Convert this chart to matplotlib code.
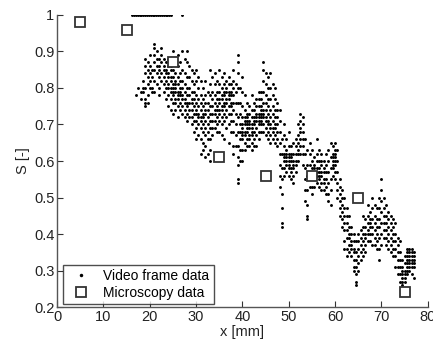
import matplotlib
matplotlib.use("Agg")
import matplotlib.pyplot as plt

plt.rcParams['font.family'] = ['Liberation Sans', 'DejaVu Sans']

# Microscopy data
micro_x = [5, 15, 25, 35, 45, 55, 65, 75]
micro_y = [0.98, 0.96, 0.87, 0.61, 0.56, 0.56, 0.50, 0.24]

# Video frame data: saturated frames (S = 1)
sat_x = [16.2, 16.6, 17.0, 17.4, 17.8, 18.2, 18.6, 19.0, 19.4, 19.8, 20.2, 20.6,
         21.0, 21.4, 21.8, 22.2, 22.6, 23.0, 23.4, 23.8, 24.2, 24.6, 27.0]
sat_y = [1.0] * len(sat_x)

# Video frame data: columns of frames (x position, S values)
col_x = [17.0, 17.5, 18.0, 18.5, 19.0, 19.5, 20.0, 20.5, 21.0, 21.5, 22.0, 22.5,
         23.0, 23.5, 24.0, 24.5, 25.0, 25.5, 26.0, 26.5, 27.0, 27.5, 28.0, 28.5,
         29.0, 29.5, 30.0, 30.5, 31.0, 31.5, 32.0, 32.5, 33.0, 33.5, 34.0, 34.5,
         35.0, 35.5, 36.0, 36.5, 37.0, 37.5, 38.0, 38.5, 39.0, 39.5, 40.0, 40.5,
         41.0, 41.5, 42.0, 42.5, 43.0, 43.5, 44.0, 44.5, 45.0, 45.5, 46.0, 46.5,
         47.0, 47.5, 48.0, 48.5, 49.0, 49.5, 50.0, 50.5, 51.0, 51.5, 52.0, 52.5,
         53.0, 53.5, 54.0, 54.5, 55.0, 55.5, 56.0, 56.5, 57.0, 57.5, 58.0, 58.5,
         59.0, 59.5, 60.0, 60.5, 61.0, 61.5, 62.0, 62.5, 63.0, 63.5, 64.0, 64.5,
         65.0, 65.5, 66.0, 66.5, 67.0, 67.5, 68.0, 68.5, 69.0, 69.5, 70.0, 70.5,
         71.0, 71.5, 72.0, 72.5, 73.0, 73.5, 74.0, 74.5, 75.0, 75.5, 76.0, 76.5,
         77.0]
col_y = [
    [0.78],
    [0.80],
    [0.79, 0.77],
    [0.82, 0.80, 0.79],
    [0.88, 0.86, 0.84, 0.80, 0.77, 0.76, 0.75],
    [0.87, 0.85, 0.83, 0.81, 0.78, 0.76],
    [0.89, 0.86, 0.84, 0.82, 0.80],
    [0.85, 0.83, 0.80, 0.79],
    [0.92, 0.91, 0.89, 0.87, 0.85, 0.82, 0.79],
    [0.90, 0.88, 0.86, 0.84, 0.81],
    [0.88, 0.86, 0.85, 0.83, 0.80, 0.78],
    [0.91, 0.89, 0.87, 0.84, 0.82],
    [0.88, 0.86, 0.85, 0.83, 0.81, 0.79],
    [0.87, 0.85, 0.84, 0.82, 0.80, 0.77],
    [0.88, 0.86, 0.84, 0.83, 0.81, 0.80, 0.78, 0.75],
    [0.86, 0.85, 0.83, 0.82, 0.80, 0.79, 0.77, 0.74],
    [0.90, 0.85, 0.83, 0.81, 0.80, 0.79, 0.78, 0.76, 0.73],
    [0.84, 0.82, 0.81, 0.80, 0.79, 0.77, 0.76, 0.74],
    [0.89, 0.86, 0.83, 0.81, 0.79, 0.78, 0.77, 0.75, 0.72],
    [0.87, 0.84, 0.82, 0.80, 0.79, 0.78, 0.76, 0.74],
    [0.90, 0.85, 0.82, 0.80, 0.78, 0.77, 0.75, 0.73],
    [0.88, 0.84, 0.81, 0.79, 0.77, 0.76, 0.74, 0.72],
    [0.90, 0.87, 0.83, 0.80, 0.78, 0.76, 0.75, 0.73, 0.71],
    [0.86, 0.83, 0.80, 0.78, 0.76, 0.74, 0.72],
    [0.85, 0.82, 0.79, 0.77, 0.76, 0.74, 0.72, 0.70],
    [0.84, 0.81, 0.79, 0.77, 0.75, 0.73, 0.71, 0.68],
    [0.85, 0.82, 0.78, 0.76, 0.74, 0.73, 0.71, 0.69, 0.66],
    [0.83, 0.80, 0.77, 0.75, 0.73, 0.72, 0.70, 0.67],
    [0.82, 0.78, 0.76, 0.74, 0.72, 0.71, 0.69, 0.66, 0.62],
    [0.80, 0.77, 0.75, 0.73, 0.72, 0.70, 0.68, 0.65, 0.63],
    [0.82, 0.78, 0.76, 0.74, 0.73, 0.71, 0.69, 0.67, 0.64, 0.61],
    [0.79, 0.76, 0.74, 0.72, 0.70, 0.68, 0.66, 0.62],
    [0.85, 0.81, 0.78, 0.75, 0.73, 0.71, 0.69, 0.66, 0.63, 0.60],
    [0.83, 0.79, 0.77, 0.75, 0.73, 0.71, 0.69, 0.67],
    [0.84, 0.81, 0.78, 0.76, 0.74, 0.73, 0.71, 0.69],
    [0.82, 0.79, 0.77, 0.75, 0.74, 0.72, 0.70, 0.68],
    [0.85, 0.81, 0.79, 0.77, 0.76, 0.74, 0.73, 0.71, 0.68],
    [0.83, 0.80, 0.78, 0.77, 0.75, 0.74, 0.72, 0.70, 0.67],
    [0.84, 0.81, 0.79, 0.78, 0.76, 0.75, 0.73, 0.71, 0.66],
    [0.82, 0.80, 0.79, 0.77, 0.76, 0.74, 0.72, 0.69],
    [0.83, 0.81, 0.79, 0.78, 0.77, 0.75, 0.73, 0.70, 0.65],
    [0.81, 0.79, 0.78, 0.76, 0.75, 0.73, 0.71, 0.68],
    [0.85, 0.82, 0.80, 0.78, 0.76, 0.74, 0.71, 0.68, 0.64, 0.62],
    [0.81, 0.79, 0.76, 0.73, 0.70, 0.67, 0.64],
    [0.89, 0.87, 0.84, 0.80, 0.76, 0.72, 0.68, 0.64, 0.61, 0.59, 0.55, 0.54],
    [0.80, 0.76, 0.73, 0.70, 0.68, 0.66, 0.63, 0.60],
    [0.83, 0.79, 0.75, 0.72, 0.70, 0.69, 0.68, 0.67, 0.66, 0.63, 0.60],
    [0.78, 0.74, 0.72, 0.71, 0.70, 0.68, 0.67, 0.65, 0.63],
    [0.76, 0.73, 0.72, 0.71, 0.70, 0.69, 0.68, 0.66, 0.64],
    [0.75, 0.73, 0.71, 0.70, 0.69, 0.67, 0.66, 0.64],
    [0.78, 0.74, 0.72, 0.70, 0.69, 0.68, 0.67, 0.65, 0.63],
    [0.76, 0.74, 0.72, 0.71, 0.70, 0.68, 0.66, 0.64],
    [0.77, 0.75, 0.73, 0.72, 0.71, 0.69, 0.67, 0.64],
    [0.79, 0.77, 0.75, 0.73, 0.72, 0.71, 0.70, 0.68, 0.66],
    [0.79, 0.77, 0.75, 0.74, 0.73, 0.72, 0.71, 0.70, 0.68],
    [0.87, 0.85, 0.82, 0.79, 0.76, 0.74, 0.73, 0.72, 0.70, 0.68],
    [0.84, 0.81, 0.78, 0.76, 0.74, 0.72, 0.71, 0.69, 0.67],
    [0.83, 0.80, 0.77, 0.75, 0.73, 0.71, 0.70, 0.68, 0.66],
    [0.84, 0.80, 0.77, 0.74, 0.72, 0.70, 0.69, 0.67, 0.65],
    [0.81, 0.78, 0.75, 0.73, 0.71, 0.69, 0.68, 0.66],
    [0.80, 0.77, 0.74, 0.72, 0.70, 0.69, 0.67, 0.65],
    [0.76, 0.74, 0.72, 0.70, 0.68, 0.66, 0.64],
    [0.74, 0.71, 0.68, 0.65, 0.62, 0.59, 0.56, 0.53],
    [0.66, 0.62, 0.58, 0.55, 0.51, 0.47, 0.43, 0.42],
    [0.70, 0.67, 0.64, 0.62, 0.61, 0.60, 0.58, 0.56],
    [0.66, 0.63, 0.62, 0.61, 0.60, 0.59, 0.57],
    [0.68, 0.64, 0.62, 0.61, 0.60, 0.59, 0.58, 0.56],
    [0.64, 0.62, 0.61, 0.60, 0.58, 0.57, 0.55],
    [0.65, 0.62, 0.60, 0.59, 0.58, 0.56, 0.54],
    [0.66, 0.64, 0.62, 0.60, 0.59, 0.57],
    [0.70, 0.67, 0.65, 0.63, 0.62, 0.60],
    [0.73, 0.71, 0.69, 0.68, 0.66, 0.64, 0.62],
    [0.72, 0.70, 0.68, 0.66, 0.64, 0.62, 0.59],
    [0.66, 0.62, 0.58, 0.55, 0.52, 0.49],
    [0.63, 0.59, 0.56, 0.52, 0.48, 0.45, 0.44],
    [0.65, 0.62, 0.59, 0.57, 0.55, 0.53],
    [0.63, 0.60, 0.58, 0.57, 0.55, 0.53, 0.51],
    [0.61, 0.59, 0.58, 0.56, 0.55, 0.53],
    [0.66, 0.62, 0.60, 0.58, 0.57, 0.56, 0.54],
    [0.63, 0.60, 0.58, 0.57, 0.56, 0.55, 0.53],
    [0.62, 0.60, 0.59, 0.57, 0.56, 0.54, 0.52],
    [0.60, 0.58, 0.57, 0.55, 0.54, 0.52],
    [0.62, 0.59, 0.57, 0.55, 0.53, 0.51],
    [0.63, 0.60, 0.57, 0.54, 0.51, 0.49],
    [0.65, 0.61, 0.58, 0.55, 0.52, 0.48],
    [0.64, 0.62, 0.61, 0.60, 0.59, 0.58, 0.56],
    [0.65, 0.63, 0.62, 0.61, 0.60, 0.59, 0.57, 0.55],
    [0.63, 0.60, 0.57, 0.54, 0.52, 0.50],
    [0.55, 0.53, 0.51, 0.49, 0.47, 0.45],
    [0.52, 0.50, 0.48, 0.46, 0.44, 0.42],
    [0.50, 0.47, 0.45, 0.43, 0.41, 0.38, 0.36],
    [0.47, 0.45, 0.43, 0.41, 0.39, 0.36, 0.34],
    [0.45, 0.42, 0.40, 0.39, 0.37, 0.35],
    [0.42, 0.40, 0.38, 0.37, 0.36, 0.34],
    [0.40, 0.38, 0.36, 0.35, 0.33, 0.31, 0.30],
    [0.38, 0.35, 0.33, 0.31, 0.29, 0.27, 0.26],
    [0.40, 0.38, 0.36, 0.34, 0.32, 0.30],
    [0.41, 0.39, 0.37, 0.35, 0.33],
    [0.45, 0.42, 0.40, 0.38, 0.36, 0.34],
    [0.44, 0.42, 0.40, 0.39, 0.37, 0.35],
    [0.48, 0.45, 0.43, 0.41, 0.40, 0.38],
    [0.46, 0.44, 0.43, 0.42, 0.40, 0.38],
    [0.50, 0.47, 0.44, 0.42, 0.40, 0.37],
    [0.48, 0.45, 0.43, 0.41, 0.39, 0.37],
    [0.47, 0.44, 0.42, 0.40, 0.38, 0.36],
    [0.50, 0.47, 0.44, 0.42, 0.39, 0.36, 0.33],
    [0.55, 0.52, 0.49, 0.46, 0.43, 0.40, 0.37],
    [0.50, 0.47, 0.45, 0.43, 0.41, 0.39],
    [0.48, 0.45, 0.43, 0.41, 0.39, 0.37],
    [0.46, 0.44, 0.42, 0.40, 0.38, 0.36],
    [0.45, 0.43, 0.41, 0.39, 0.37, 0.35],
    [0.44, 0.42, 0.40, 0.38, 0.36, 0.34],
    [0.43, 0.40, 0.38, 0.36, 0.34, 0.31],
    [0.39, 0.37, 0.35, 0.33, 0.31, 0.29],
    [0.38, 0.35, 0.33, 0.31, 0.29, 0.27],
    [0.33, 0.31, 0.30, 0.29, 0.28, 0.27, 0.26],
    [0.34, 0.32, 0.30, 0.29, 0.28, 0.27],
    [0.36, 0.35, 0.34, 0.33, 0.32, 0.31, 0.30, 0.29],
    [0.36, 0.35, 0.34, 0.33, 0.32, 0.31, 0.30],
    [0.36, 0.35, 0.34, 0.33, 0.32, 0.31, 0.29],
    [0.35, 0.34, 0.33, 0.32, 0.31, 0.28],
]

x_ticks = [0, 10, 20, 30, 40, 50, 60, 70, 80]
y_ticks = [0.2, 0.3, 0.4, 0.5, 0.6, 0.7, 0.8, 0.9, 1.0]
y_tick_labels = ['0.2', '0.3', '0.4', '0.5', '0.6', '0.7', '0.8', '0.9', '1']

video_x = list(sat_x)
video_y = list(sat_y)
for cx, ys in zip(col_x, col_y):
    for yv in ys:
        video_x.append(cx)
        video_y.append(yv)

fig = plt.figure(figsize=(4.33, 3.47), dpi=100)
ax = fig.add_axes([0.132, 0.115, 0.856, 0.842])

ax.plot(video_x, video_y, linestyle='none', marker='o', markersize=2.1,
        color='black', markeredgewidth=0, label='Video frame data')
ax.plot(micro_x, micro_y, linestyle='none', marker='s', markersize=7,
        markerfacecolor='white', markeredgecolor='#333333', markeredgewidth=1.3,
        label='Microscopy data')

ax.set_xlim(0, 80)
ax.set_ylim(0.2, 1.0)
ax.set_xticks(x_ticks)
ax.set_yticks(y_ticks)
ax.set_yticklabels(y_tick_labels)
ax.tick_params(direction='in', length=4, labelsize=10.5, colors='#333333',
               labelcolor='#222222', pad=2)
ax.spines['top'].set_visible(False)
ax.spines['right'].set_visible(False)
for s in ('left', 'bottom'):
    ax.spines[s].set_color('#555555')
    ax.spines[s].set_linewidth(1.0)

ax.set_xlabel('x [mm]', fontsize=10.5, color='#222222', labelpad=1)
ax.set_ylabel('S [-]', fontsize=10.5, color='#222222', labelpad=3)

leg = ax.legend(loc='lower left', bbox_to_anchor=(0.016, 0.01), borderaxespad=0,
                fontsize=10, frameon=True, fancybox=False, borderpad=0.3,
                handletextpad=0.6, labelspacing=0.2, markerscale=1.0,
                handlelength=2.0)
leg.get_frame().set_edgecolor('#222222')
leg.get_frame().set_linewidth(1.0)
leg.legend_handles[0].set_markersize(2.5)

fig.savefig('out.png', dpi=100)
